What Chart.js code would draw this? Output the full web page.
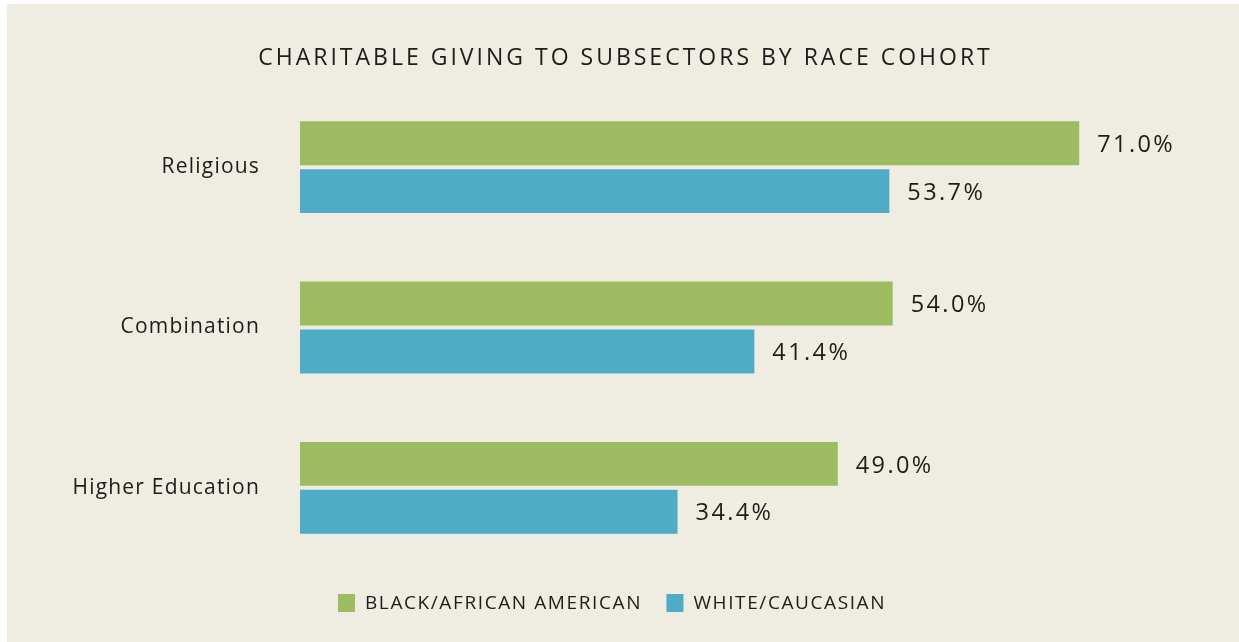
<!DOCTYPE html>
<html>
<head>
<meta charset="utf-8">
<script src="https://cdn.jsdelivr.net/npm/chart.js@4"></script>
<style>
  html, body { margin: 0; padding: 0; background: #ffffff; }
  #wrap { position: absolute; left: 7px; top: 4px; width: 1232px; height: 638px; background: #efece1; }
</style>
</head>
<body>
<div id="wrap"><canvas id="chart"></canvas></div>
<script>
// =======================
// Data
// =======================
const TITLE = "CHARITABLE GIVING TO SUBSECTORS BY RACE COHORT"
const categories = ["Religious", "Combination", "Higher Education"]
const seriesNames = ["BLACK/AFRICAN AMERICAN", "WHITE/CAUCASIAN"]
const blackValues = [71.0, 54.0, 49.0]
const whiteValues = [53.7, 41.4, 34.4]

const GREEN = "#9dbb61"
const BLUE = "#4fabc6"
const INK = "#1c1c1c"
const FONT = "'Open Sans', 'Noto Sans', sans-serif"


// =======================
// Text helpers
// =======================
function spacedText(ctx, text, x, y, size, spacing, align) {
  ctx.save()
  ctx.font = `${size}px ${FONT}`
  ctx.letterSpacing = spacing + "px"
  ctx.fillStyle = INK
  ctx.textBaseline = "middle"
  let w = ctx.measureText(text).width - spacing
  let left = x
  if (align === "center") left = x - w / 2
  if (align === "right") left = x - w
  ctx.textAlign = "left"
  ctx.fillText(text, left, y)
  ctx.restore()
  return w
}

const decorations = {
  id: "decorations",
  beforeDraw(chart) {
    // tick labels pick this up
    chart.ctx.letterSpacing = "1.2px"
  },
  afterDraw(chart) {
    const ctx = chart.ctx
    const w = chart.width

    // title
    spacedText(ctx, TITLE, w / 2 + 1, 54, 23, 3, "center")

    // value labels
    chart.data.datasets.forEach((ds, i) => {
      chart.getDatasetMeta(i).data.forEach((bar, j) => {
        spacedText(ctx, ds.data[j].toFixed(1) + "%", bar.x + 18, bar.y + 2, 23.5, 2.4, "left")
      })
    })

    // legend
    let x = 331
    const y = 599
    chart.data.datasets.forEach(ds => {
      ctx.fillStyle = ds.backgroundColor
      ctx.fillRect(x, y - 9, 17, 18)
      const tw = spacedText(ctx, ds.label, x + 27, y + 1, 19, 1.6, "left")
      x += 27 + tw + 26
    })
  }
}


// =======================
// Chart
// =======================
new Chart(document.getElementById("chart"), {
  type: "bar",
  data: {
    labels: categories,
    datasets: [
      { label: seriesNames[0], data: blackValues, backgroundColor: GREEN },
      { label: seriesNames[1], data: whiteValues, backgroundColor: BLUE }
    ]
  },
  options: {
    indexAxis: "y",
    animation: false,
    responsive: true,
    maintainAspectRatio: false,
    categoryPercentage: 0.598,
    barPercentage: 0.917,
    layout: { padding: { top: 83, bottom: 74, right: 61, left: 0 } },
    plugins: {
      legend: { display: false },
      title: { display: false },
      tooltip: { enabled: false }
    },
    scales: {
      x: { display: false, min: 0, max: 80 },
      y: {
        grid: { display: false },
        border: { display: false },
        ticks: {
          color: INK,
          padding: 32,
          font: { family: FONT, size: 21 }
        },
        afterFit(scale) { scale.width = 293 }
      }
    }
  },
  plugins: [decorations]
})
</script>
</body>
</html>
